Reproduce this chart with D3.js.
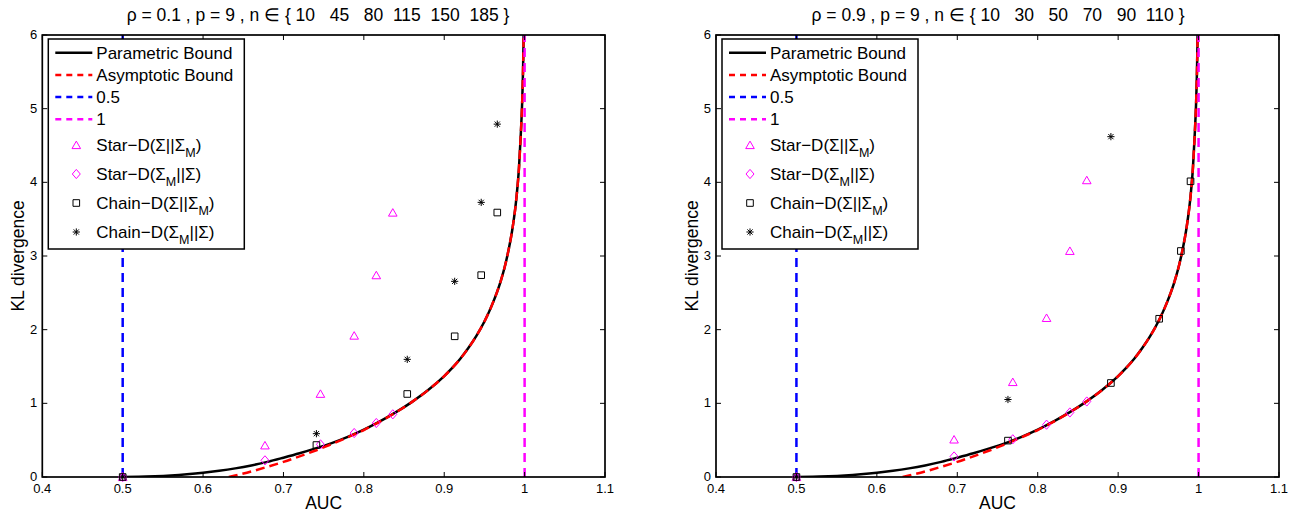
<!DOCTYPE html>
<html><head><meta charset="utf-8">
<script src="https://cdn.jsdelivr.net/npm/d3@7"></script>
<style>
html,body{margin:0;padding:0;background:#fff;}
svg{display:block;font-family:"Liberation Sans",Arial,Helvetica,sans-serif;}
</style></head><body>
<svg id="fig" width="1295" height="517"></svg>
<script>
// axis ticks
const aucTicks = [0.4, 0.5, 0.6, 0.7, 0.8, 0.9, 1, 1.1];
const klTicks = [0, 1, 2, 3, 4, 5, 6];

// parametric bound (KL vs AUC)
const parametricAuc = [0.5,0.52,0.54,0.56,0.58,0.6,0.62,0.64,0.66,0.68,0.7,0.72,0.74,0.76,0.78,0.8,0.82,0.84,0.86,0.88,0.9,0.91,0.92,0.93,0.94,0.95,0.96,0.97,0.975,0.98,0.985,0.99,0.993,0.995,0.997,0.998,0.9985,0.999];
const parametricKL  = [0,0.002,0.009,0.02,0.036,0.057,0.084,0.117,0.157,0.205,0.262,0.322,0.388,0.46,0.545,0.643,0.755,0.88,1.02,1.18,1.37,1.48,1.605,1.75,1.915,2.11,2.35,2.65,2.84,3.08,3.38,3.81,4.2,4.6,5.1,5.5,5.8,6.2];

// asymptotic bound
const asymptoticAuc = [0.632,0.64,0.66,0.68,0.7,0.72,0.74,0.76,0.78,0.8,0.82,0.84,0.86,0.88,0.9,0.91,0.92,0.93,0.94,0.95,0.96,0.97,0.975,0.98,0.985,0.99,0.993,0.995,0.997,0.998,0.9985,0.999];
const asymptoticKL  = [0,0.02,0.075,0.138,0.205,0.28,0.36,0.447,0.54,0.638,0.752,0.878,1.02,1.18,1.37,1.48,1.605,1.75,1.915,2.11,2.35,2.65,2.84,3.08,3.38,3.81,4.2,4.6,5.1,5.5,5.8,6.2];

// reference AUC levels
const chanceAuc = 0.5;
const perfectAuc = 1;

// rho = 0.1
const titleLow = "\u03c1 = 0.1 , p = 9 , n \u2208 { 10   45   80  115  150  185 }";
const starAucLow  = [0.5, 0.677, 0.746, 0.788, 0.8155, 0.836];
const starFwdLow  = [0, 0.43, 1.13, 1.92, 2.74, 3.59];
const starRevLow  = [0, 0.226, 0.443, 0.597, 0.733, 0.851];
const chainAucLow = [0.5, 0.741, 0.854, 0.913, 0.946, 0.966];
const chainFwdLow = [0, 0.434, 1.127, 1.91, 2.74, 3.59];
const chainRevLow = [0, 0.588, 1.597, 2.656, 3.728, 4.79];

// rho = 0.9
const titleHigh = "\u03c1 = 0.9 , p = 9 , n \u2208 { 10   30   50   70   90  110 }";
const starAucHigh  = [0.5, 0.696, 0.769, 0.811, 0.840, 0.861];
const starFwdHigh  = [0, 0.51, 1.29, 2.16, 3.07, 4.03];
const starRevHigh  = [0, 0.279, 0.512, 0.71, 0.876, 1.025];
const chainAucHigh = [0.5, 0.763, 0.891, 0.951, 0.978, 0.990];
const chainFwdHigh = [0, 0.494, 1.276, 2.148, 3.068, 4.014];
const chainRevHigh = [0, 1.052, 4.62];

const zip = (xs, ys) => ys.map((y, i) => [xs[i], y]);

const svg = d3.select("#fig");
const MAG = "#ff00ff";

const markerPaths = {
  tri: "M0,-3.9L4.3,3.6L-4.3,3.6Z",
  dia: "M0,-4.6L4,0L0,4.6L-4,0Z",
  sq: "M-3.3,-3.3h6.6v6.6h-6.6Z",
  ast: "M-3.6,0H3.6M0,-3.6V3.6M-2.6,-2.6L2.6,2.6M-2.6,2.6L2.6,-2.6"
};

const panels = [
  {x0: 42.3, x1: 605, titleX: 318, title: titleLow,
   star: starAucLow, starFwd: starFwdLow, starRev: starRevLow,
   chain: chainAucLow, chainFwd: chainFwdLow, chainRev: chainRevLow},
  {x0: 716, x1: 1279, titleX: 998, title: titleHigh,
   star: starAucHigh, starFwd: starFwdHigh, starRev: starRevHigh,
   chain: chainAucHigh, chainFwd: chainFwdHigh, chainRev: chainRevHigh}
];

const yTop = 35, yBot = 477;

panels.forEach((p, pi) => {
  const x = d3.scaleLinear().domain([0.4, 1.1]).range([p.x0, p.x1]);
  const y = d3.scaleLinear().domain([0, 6]).range([yBot, yTop]);
  const g = svg.append("g");

  const clipId = "clip" + pi;
  svg.append("clipPath").attr("id", clipId)
    .append("rect").attr("x", p.x0).attr("y", yTop)
    .attr("width", p.x1 - p.x0).attr("height", yBot - yTop);

  const plot = g.append("g").attr("clip-path", `url(#${clipId})`);
  const line = d3.line().x(d => x(d[0])).y(d => y(d[1])).curve(d3.curveMonotoneX);

  plot.append("path").datum(zip(parametricAuc, parametricKL))
    .attr("d", line).attr("fill", "none").attr("stroke", "#000").attr("stroke-width", 2.5);
  plot.append("path").datum(zip(asymptoticAuc, asymptoticKL))
    .attr("d", line).attr("fill", "none").attr("stroke", "#ff0000")
    .attr("stroke-width", 2.5).attr("stroke-dasharray", "9,5");
  plot.append("line").attr("x1", x(chanceAuc)).attr("x2", x(chanceAuc))
    .attr("y1", y(0)).attr("y2", y(6))
    .attr("stroke", "#0000ff").attr("stroke-width", 2.5).attr("stroke-dasharray", "9,6");
  plot.append("line").attr("x1", x(perfectAuc)).attr("x2", x(perfectAuc))
    .attr("y1", y(0)).attr("y2", y(6))
    .attr("stroke", MAG).attr("stroke-width", 2.5).attr("stroke-dasharray", "9,6");

  // axes box with inward ticks on all sides
  const ax = g.append("g");
  const tl = 5;
  aucTicks.forEach(t => {
    ax.append("line").attr("x1", x(t)).attr("x2", x(t)).attr("y1", yBot).attr("y2", yBot - tl)
      .attr("stroke", "#000").attr("stroke-width", 1);
    ax.append("line").attr("x1", x(t)).attr("x2", x(t)).attr("y1", yTop).attr("y2", yTop + tl)
      .attr("stroke", "#000").attr("stroke-width", 1);
    ax.append("text").attr("x", x(t)).attr("y", yBot + 16)
      .attr("text-anchor", "middle").attr("font-size", 13).text(d3.format("~g")(t));
  });
  klTicks.forEach(t => {
    ax.append("line").attr("x1", p.x0).attr("x2", p.x0 + tl).attr("y1", y(t)).attr("y2", y(t))
      .attr("stroke", "#000").attr("stroke-width", 1);
    ax.append("line").attr("x1", p.x1).attr("x2", p.x1 - tl).attr("y1", y(t)).attr("y2", y(t))
      .attr("stroke", "#000").attr("stroke-width", 1);
    ax.append("text").attr("x", p.x0 - 5).attr("y", y(t) + 4)
      .attr("text-anchor", "end").attr("font-size", 13).text(t);
  });
  ax.append("rect").attr("x", p.x0).attr("y", yTop)
    .attr("width", p.x1 - p.x0).attr("height", yBot - yTop)
    .attr("fill", "none").attr("stroke", "#000").attr("stroke-width", 1.7);

  // markers
  const mk = g.append("g").attr("fill", "none").attr("stroke-width", 1);
  const drawMarks = (pts, shape, color) => {
    mk.selectAll(null).data(pts).enter().append("path")
      .attr("transform", d => `translate(${x(d[0])},${y(d[1])})`)
      .attr("d", markerPaths[shape]).attr("stroke", color);
  };
  drawMarks(zip(p.star, p.starFwd), "tri", MAG);
  drawMarks(zip(p.star, p.starRev), "dia", MAG);
  drawMarks(zip(p.chain, p.chainFwd), "sq", "#000");
  drawMarks(zip(p.chain, p.chainRev), "ast", "#000");

  // labels
  g.append("text").attr("x", p.titleX).attr("y", 21).attr("text-anchor", "middle")
    .attr("font-size", 17.5).attr("xml:space", "preserve").style("white-space", "pre").text(p.title);
  g.append("text").attr("x", (p.x0 + p.x1) / 2).attr("y", 509).attr("text-anchor", "middle")
    .attr("font-size", 17.5).text("AUC");
  g.append("text").attr("transform", `translate(${p.x0 - 18},${(yTop + yBot) / 2}) rotate(-90)`)
    .attr("text-anchor", "middle").attr("font-size", 17.5).text("KL divergence");

  // legend
  const lg = g.append("g");
  const lx = p.x0 + 6;
  lg.append("rect").attr("x", lx).attr("y", 39).attr("width", 196).attr("height", 210)
    .attr("fill", "#fff").attr("stroke", "#000").attr("stroke-width", 1.5);
  const lineItems = [
    {label: "Parametric Bound", color: "#000", dash: null},
    {label: "Asymptotic Bound", color: "#ff0000", dash: "6,5"},
    {label: "0.5", color: "#0000ff", dash: "6,5"},
    {label: "1", color: MAG, dash: "6,5"}
  ];
  lineItems.forEach((it, i) => {
    const yy = 52.7 + i * 22.2;
    lg.append("line").attr("x1", lx + 7).attr("x2", lx + 44).attr("y1", yy).attr("y2", yy)
      .attr("stroke", it.color).attr("stroke-width", 2.5)
      .attr("stroke-dasharray", it.dash);
    lg.append("text").attr("x", lx + 48).attr("y", yy + 6).attr("font-size", 17).text(it.label);
  });
  const markItems = [
    {shape: "tri", color: MAG, parts: [["Star\u2212D(\u03a3||\u03a3", 0], ["M", 1], [")", 0]]},
    {shape: "dia", color: MAG, parts: [["Star\u2212D(\u03a3", 0], ["M", 1], ["||\u03a3)", 0]]},
    {shape: "sq", color: "#000", parts: [["Chain\u2212D(\u03a3||\u03a3", 0], ["M", 1], [")", 0]]},
    {shape: "ast", color: "#000", parts: [["Chain\u2212D(\u03a3", 0], ["M", 1], ["||\u03a3)", 0]]}
  ];
  markItems.forEach((it, i) => {
    const yy = 145 + i * 29;
    lg.append("path").attr("transform", `translate(${lx + 28},${yy})`)
      .attr("d", markerPaths[it.shape]).attr("fill", "none").attr("stroke", it.color).attr("stroke-width", 1);
    const t = lg.append("text").attr("x", lx + 48).attr("y", yy + 5.5).attr("font-size", 17);
    let prevSub = 0;
    it.parts.forEach(([s, sub]) => {
      const dy = sub ? 6 : (prevSub ? -6 : 0);
      t.append("tspan").attr("dy", dy).attr("font-size", sub ? 12.5 : 17).text(s);
      prevSub = sub;
    });
  });
});
</script>
</body></html>
